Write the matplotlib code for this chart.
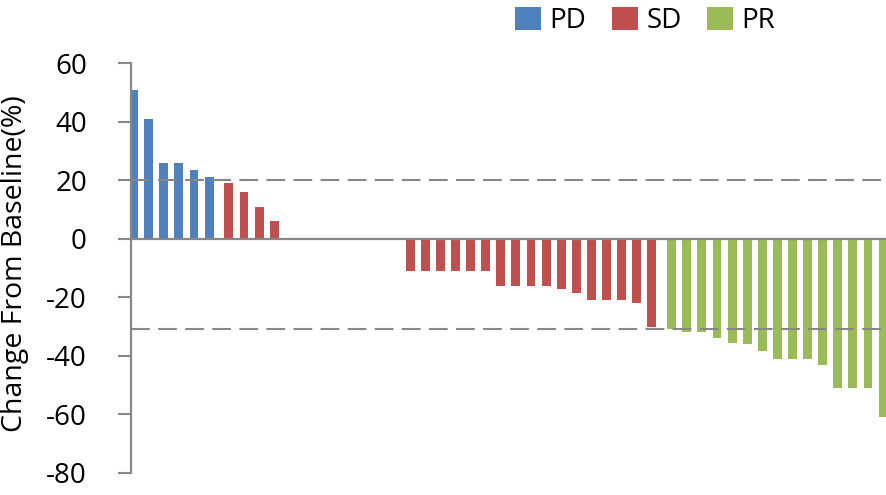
import numpy as np
import matplotlib
matplotlib.use("Agg")
import matplotlib.pyplot as plt
from matplotlib.patches import Patch

plt.rcParams['font.family'] = ['Open Sans', 'DejaVu Sans']
plt.rcParams['axes.unicode_minus'] = False

# ---- data ----
series_names = ["PD", "SD", "PR"]
pd_vals = [51, 41, 26, 26, 23.5, 21]
sd_vals = [19, 16, 11, 6, 0, 0, 0, 0, 0, 0, 0, 0,
           -11, -11, -11, -11, -11, -11, -16, -16, -16, -16,
           -17, -18.5, -21, -21, -21, -22, -30]
pr_vals = [-31, -32, -32, -34, -35.5, -36, -38.5, -41, -41, -41,
           -43, -51, -51, -51, -61]
thresholds = [20, -31]
yticks = [60, 40, 20, 0, -20, -40, -60, -80]
ylabel = "Change From Baseline(%)"

colors = ["#4F81BD", "#C0504D", "#9BBB59"]
gray = "#878787"

fig = plt.figure(figsize=(8.86, 4.95), dpi=100)
ax = fig.add_axes([0.1475, 0.045, 0.8525, 0.827])

n_pd, n_sd, n_pr = len(pd_vals), len(sd_vals), len(pr_vals)
x_pd = np.arange(n_pd)
x_sd = np.arange(n_pd, n_pd + n_sd)
x_pr = np.arange(n_pd + n_sd, n_pd + n_sd + n_pr)
n_total = n_pd + n_sd + n_pr

offset = 0.31
width = 0.59
ax.bar(x_pd - offset, pd_vals, width=width, color=colors[0], zorder=2)
ax.bar(x_sd, sd_vals, width=width, color=colors[1], zorder=2)
ax.bar(x_pr + offset, pr_vals, width=width, color=colors[2], zorder=2)

ax.axhline(0, color=gray, lw=1.6, zorder=3)
for t in thresholds:
    ax.axhline(t, color=gray, lw=1.5, ls=(0, (9, 4)), zorder=3)

ax.set_xlim(-0.5, n_total - 0.5)
ax.set_ylim(-80, 60)
ax.set_yticks(yticks)
ax.set_yticklabels([str(v) for v in yticks])
ax.set_xticks([])

for s in ["top", "right", "bottom"]:
    ax.spines[s].set_visible(False)
ax.spines["left"].set_color(gray)
ax.spines["left"].set_linewidth(1.6)
ax.tick_params(axis="y", direction="out", length=9.5, width=1.5, color=gray,
               labelsize=20, pad=22, labelcolor="black")

ax.set_ylabel(ylabel, fontsize=20.5, color="black")
ax.yaxis.set_label_coords(-0.134, 0.51)

handles = [Patch(facecolor=c, edgecolor="none") for c in colors]
fig.legend(handles, series_names, loc="center", bbox_to_anchor=(0.728, 0.958),
           ncol=3, frameon=False, fontsize=20, handlelength=0.95,
           handleheight=0.95, handletextpad=0.3, columnspacing=0.9,
           borderaxespad=0, borderpad=0)

fig.savefig("out.png", dpi=100)
